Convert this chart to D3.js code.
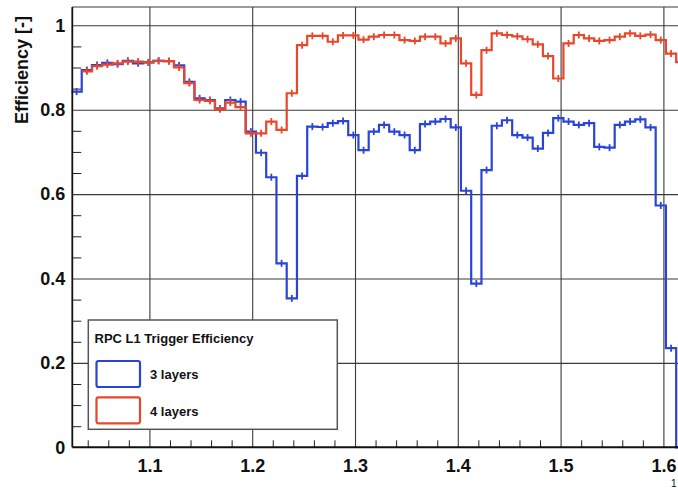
<!DOCTYPE html>
<html>
<head>
<meta charset="utf-8">
<script src="https://cdn.jsdelivr.net/npm/d3@7"></script>
<style>
  body { margin: 0; background: #fff; }
  svg text { font-family: "Liberation Sans", Arial, Helvetica, sans-serif; font-weight: bold; fill: #111; }
</style>
</head>
<body>
<div id="chart"></div>
<script>
// eta binning of the histograms
var etaLo = 1.0242;
var binWidth = 0.00997;

// efficiency per bin, 3 layers (blue)
var eff3 = [0.843, 0.894, 0.906, 0.911, 0.908, 0.916, 0.910, 0.912, 0.916, 0.915,
            0.905, 0.866, 0.827, 0.823, 0.803, 0.823, 0.819, 0.748, 0.698, 0.640,
            0.436, 0.353, 0.643, 0.760, 0.759, 0.768, 0.773, 0.740, 0.704, 0.748,
            0.764, 0.748, 0.740, 0.704, 0.766, 0.772, 0.778, 0.758, 0.608, 0.388,
            0.657, 0.762, 0.775, 0.740, 0.734, 0.708, 0.745, 0.780, 0.772, 0.764,
            0.768, 0.712, 0.710, 0.764, 0.772, 0.777, 0.758, 0.573, 0.235, 0];

// efficiency per bin, 4 layers (red), first bin empty
var eff4 = [null, 0.891, 0.903, 0.907, 0.910, 0.914, 0.914, 0.912, 0.916, 0.915,
            0.900, 0.863, 0.823, 0.821, 0.801, 0.817, 0.806, 0.744, 0.744, 0.772,
            0.752, 0.839, 0.953, 0.975, 0.975, 0.961, 0.976, 0.976, 0.966, 0.973,
            0.977, 0.977, 0.965, 0.963, 0.973, 0.973, 0.957, 0.969, 0.910, 0.835,
            0.941, 0.981, 0.977, 0.974, 0.967, 0.955, 0.927, 0.874, 0.957, 0.977,
            0.969, 0.963, 0.965, 0.973, 0.981, 0.975, 0.978, 0.965, 0.933, 0.913];

var xTicks = [1.1, 1.2, 1.3, 1.4, 1.5, 1.6];
var xMinor = [1.04, 1.06, 1.08, 1.12, 1.14, 1.16, 1.18, 1.22, 1.24, 1.26, 1.28,
              1.32, 1.34, 1.36, 1.38, 1.42, 1.44, 1.46, 1.48, 1.52, 1.54, 1.56, 1.58, 1.62];
var yTicks = [0, 0.2, 0.4, 0.6, 0.8, 1];
var yTickLabels = ["0", "0.2", "0.4", "0.6", "0.8", "1"];
var yMinor = [0.05, 0.1, 0.15, 0.25, 0.3, 0.35, 0.45, 0.5, 0.55, 0.65, 0.7, 0.75, 0.85, 0.9, 0.95];

var yTitle = "Efficiency [-]";
var legendTitle = "RPC L1 Trigger Efficiency";
var seriesNames = ["3 layers", "4 layers"];
var seriesColors = ["#2a45d6", "#e8472b"];

var svgWidth = 678, svgHeight = 494;
var frameLeft = 72.3, frameBottom = 447.3, frameTop = 7, frameRight = 700;

var svg = d3.select("#chart").append("svg")
    .attr("width", svgWidth)
    .attr("height", svgHeight);

var x = d3.scaleLinear().domain([1.025, 1.62]).range([frameLeft, frameLeft + 0.595 * 1028]);
var y = d3.scaleLinear().domain([0, 1.0434]).range([frameBottom, frameTop]);

// grid lines
svg.append("g")
    .attr("transform", `translate(0, ${frameBottom})`)
    .call(d3.axisBottom(x).tickValues(xTicks).tickSize(-(frameBottom - frameTop)).tickFormat(""))
    .call(g => g.select(".domain").remove())
    .selectAll("line").attr("stroke", "#3a3a3a").attr("stroke-width", 1.1);

svg.append("g")
    .attr("transform", `translate(${frameLeft}, 0)`)
    .call(d3.axisLeft(y).tickValues(yTicks.slice(1)).tickSize(-(frameRight - frameLeft)).tickFormat(""))
    .call(g => g.select(".domain").remove())
    .selectAll("line").attr("stroke", "#3a3a3a").attr("stroke-width", 1.1);

// minor ticks
svg.append("g")
    .attr("transform", `translate(0, ${frameBottom})`)
    .call(d3.axisBottom(x).tickValues(xMinor).tickSize(-7).tickFormat(""))
    .call(g => g.select(".domain").remove())
    .selectAll("line").attr("stroke", "#222").attr("stroke-width", 1);

svg.append("g")
    .attr("transform", `translate(${frameLeft}, 0)`)
    .call(d3.axisLeft(y).tickValues(yMinor).tickSize(-9).tickFormat(""))
    .call(g => g.select(".domain").remove())
    .selectAll("line").attr("stroke", "#222").attr("stroke-width", 1);

// frame top
svg.append("line").attr("x1", frameLeft).attr("x2", frameRight).attr("y1", frameTop).attr("y2", frameTop)
    .attr("stroke", "#3a3a3a").attr("stroke-width", 1.1);

// histograms
var edge = k => etaLo + k * binWidth;
function histPoints(vals) {
  var pts = vals.map((v, k) => [edge(k), v]);
  pts.push([edge(vals.length), vals[vals.length - 1]]);
  return pts;
}
var stepLine = d3.line()
    .defined(d => d[1] !== null)
    .x(d => x(d[0]))
    .y(d => y(d[1]))
    .curve(d3.curveStepAfter);

[eff3, eff4].forEach(function(vals, i) {
  var g = svg.append("g");
  g.append("path")
      .attr("d", stepLine(histPoints(vals)))
      .attr("fill", "none")
      .attr("stroke", seriesColors[i])
      .attr("stroke-width", 2.2);
  var marks = vals.map((v, k) => ({ c: edge(k) + binWidth / 2, v: v }))
      .filter(d => d.v !== null && d.v > 0);
  g.selectAll("line.ev").data(marks).enter().append("line")
      .attr("x1", d => x(d.c)).attr("x2", d => x(d.c))
      .attr("y1", d => y(d.v) - 3.5).attr("y2", d => y(d.v) + 3.5)
      .attr("stroke", seriesColors[i]).attr("stroke-width", 1.8);
});

// axes lines and labels
svg.append("g")
    .attr("transform", `translate(0, ${frameBottom})`)
    .call(d3.axisBottom(x).tickValues(xTicks).tickSize(0).tickPadding(12).tickFormat(d3.format(".1f")))
    .call(g => g.select(".domain").remove())
    .selectAll("text").style("font-size", "18px").attr("fill", "#111");

svg.append("g")
    .attr("transform", `translate(${frameLeft}, 0)`)
    .call(d3.axisLeft(y).tickValues(yTicks).tickSize(0).tickPadding(7).tickFormat((d, i) => yTickLabels[i]))
    .call(g => g.select(".domain").remove())
    .selectAll("text").style("font-size", "18px").attr("fill", "#111");

svg.append("line").attr("x1", frameLeft).attr("x2", frameRight).attr("y1", frameBottom).attr("y2", frameBottom)
    .attr("stroke", "#111").attr("stroke-width", 2);
svg.append("line").attr("x1", frameLeft).attr("x2", frameLeft).attr("y1", frameTop).attr("y2", frameBottom)
    .attr("stroke", "#111").attr("stroke-width", 1.8);

svg.append("text")
    .attr("transform", "translate(28, 16) rotate(-90)")
    .attr("text-anchor", "end")
    .style("font-size", "18px")
    .text(yTitle);

svg.append("text")
    .attr("x", 671).attr("y", 487)
    .style("font-size", "10px").style("font-weight", "normal").attr("fill", "#555")
    .text("1");

// legend
var legend = svg.append("g");
legend.append("rect")
    .attr("x", 88.3).attr("y", 320).attr("width", 249).attr("height", 109.3)
    .attr("fill", "#fff").attr("stroke", "#555").attr("stroke-width", 1.5);
legend.append("text")
    .attr("x", 94.5).attr("y", 342.5)
    .style("font-size", "13px")
    .text(legendTitle);
seriesNames.forEach(function(name, i) {
  legend.append("rect")
      .attr("x", 96.5).attr("y", 361 + i * 36.3).attr("width", 43.5).attr("height", 26)
      .attr("rx", 2)
      .attr("fill", "#fff").attr("stroke", seriesColors[i]).attr("stroke-width", 2.2);
  legend.append("text")
      .attr("x", 150).attr("y", 379 + i * 36.5)
      .style("font-size", "13px")
      .text(name);
});
</script>
</body>
</html>
